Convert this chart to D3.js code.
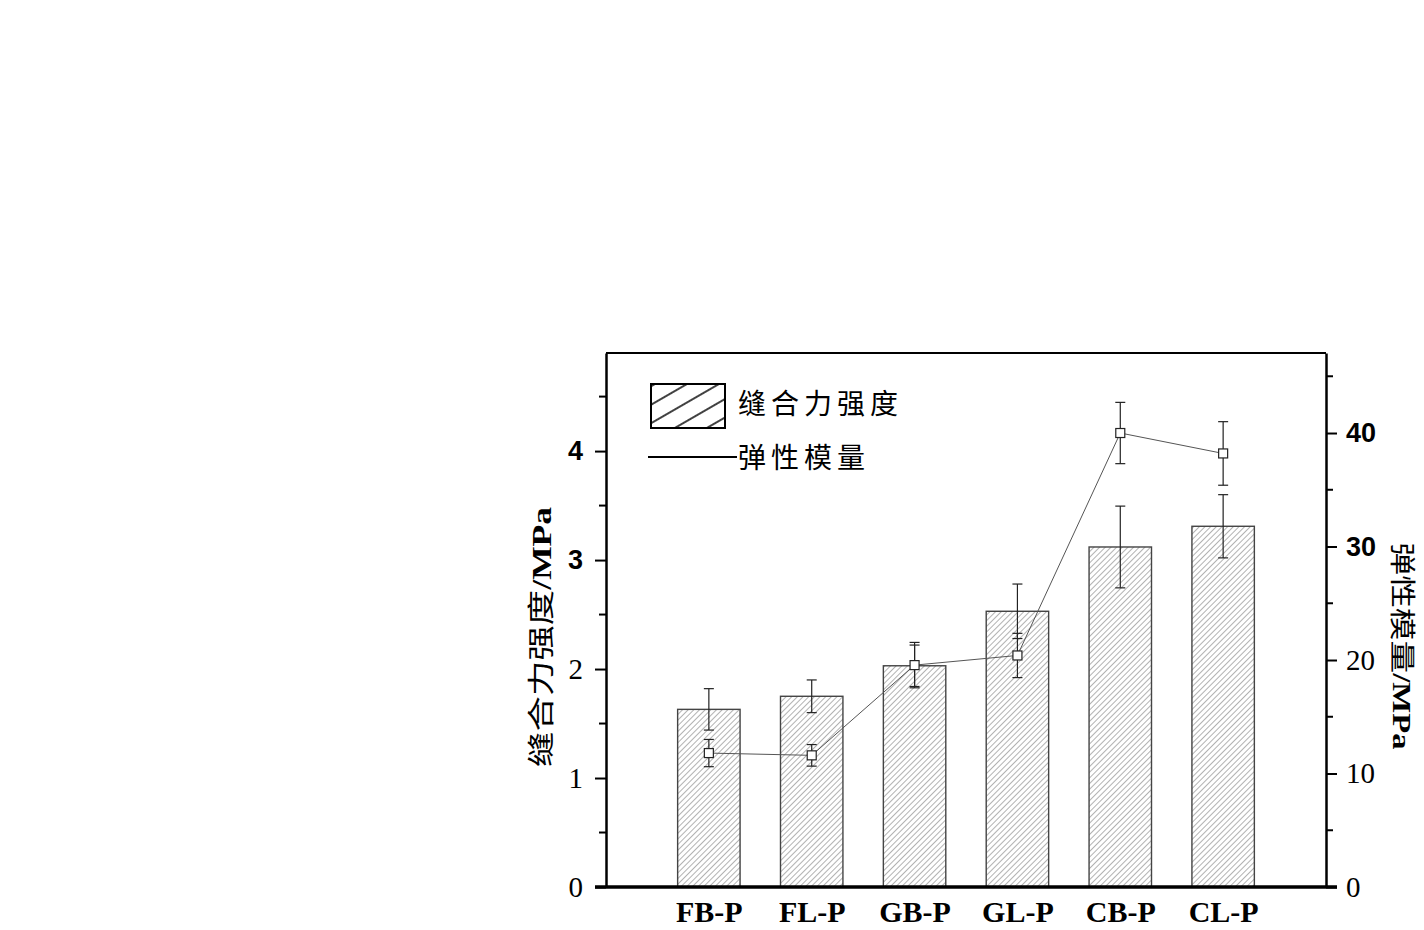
<!DOCTYPE html>
<html>
<head>
<meta charset="utf-8">
<script src="https://cdn.jsdelivr.net/npm/d3@7"></script>
<style>
  html, body { margin: 0; padding: 0; background: #fff; }
  svg { display: block; }
</style>
</head>
<body>
<svg id="chart" width="1424" height="930"></svg>
<script>
// ---- data ----
const categories = ["FB-P", "FL-P", "GB-P", "GL-P", "CB-P", "CL-P"];
const strength = [1.63, 1.75, 2.03, 2.53, 3.12, 3.31];          // 缝合力强度 / MPa
const strengthErr = [0.19, 0.15, 0.19, 0.25, 0.375, 0.29];
const modulus = [11.8, 11.6, 19.55, 20.4, 40.0, 38.2];          // 弹性模量 / MPa
const modulusErr = [1.2, 0.95, 2.0, 1.95, 2.7, 2.8];
const leftTicks = [0, 1, 2, 3, 4];
const leftMinor = [0.5, 1.5, 2.5, 3.5, 4.5];
const rightTicks = [0, 10, 20, 30, 40];
const rightMinor = [5, 15, 25, 35, 45];
const legendLabels = ["缝合力强度", "弹性模量"];
const leftTitle = ["缝合力强度", "/MPa"];
const rightTitle = ["弹性模量", "/MPa"];

const svg = d3.select("#chart");
const L = 606, R = 1326, T = 353, B = 887;

const x = d3.scalePoint().domain(categories).range([L, R]).padding(1);
const yL = d3.scaleLinear().domain([0, 4.9]).range([B, T]);
const yR = d3.scaleLinear().domain([0, 47.05]).range([B, T]);
const barW = x.step() * 0.607;

const defs = svg.append("defs");
defs.append("pattern").attr("id", "hatch").attr("patternUnits", "userSpaceOnUse")
  .attr("width", 4).attr("height", 4).attr("patternTransform", "rotate(45)")
  .append("line").attr("x1", 0).attr("y1", 0).attr("x2", 0).attr("y2", 4)
  .attr("stroke", "#555").attr("stroke-width", 0.9);
defs.append("pattern").attr("id", "hatchL").attr("patternUnits", "userSpaceOnUse")
  .attr("width", 16).attr("height", 16).attr("patternTransform", "translate(651,384) rotate(60)")
  .append("line").attr("x1", 2).attr("y1", 0).attr("x2", 2).attr("y2", 16)
  .attr("stroke", "#111").attr("stroke-width", 1.6);

// bars
const idx = d3.range(categories.length);
svg.append("g").selectAll("rect").data(idx).join("rect")
  .attr("x", i => x(categories[i]) - barW / 2)
  .attr("y", i => yL(strength[i]))
  .attr("width", barW)
  .attr("height", i => B - yL(strength[i]))
  .attr("fill", "url(#hatch)")
  .attr("stroke", "#444").attr("stroke-width", 1.4);

// error bars helper
function errBars(g, scale, vals, errs) {
  const e = g.selectAll("g").data(idx).join("g");
  e.append("line")
    .attr("x1", i => x(categories[i])).attr("x2", i => x(categories[i]))
    .attr("y1", i => scale(vals[i] - errs[i])).attr("y2", i => scale(vals[i] + errs[i]));
  e.append("line")
    .attr("x1", i => x(categories[i]) - 5).attr("x2", i => x(categories[i]) + 5)
    .attr("y1", i => scale(vals[i] + errs[i])).attr("y2", i => scale(vals[i] + errs[i]));
  e.append("line")
    .attr("x1", i => x(categories[i]) - 5).attr("x2", i => x(categories[i]) + 5)
    .attr("y1", i => scale(vals[i] - errs[i])).attr("y2", i => scale(vals[i] - errs[i]));
}
errBars(svg.append("g").attr("stroke", "#222").attr("stroke-width", 1.2), yL, strength, strengthErr);

// modulus line
svg.append("path")
  .datum(idx)
  .attr("fill", "none").attr("stroke", "#555").attr("stroke-width", 1)
  .attr("d", d3.line().x(i => x(categories[i])).y(i => yR(modulus[i])));
errBars(svg.append("g").attr("stroke", "#222").attr("stroke-width", 1.2), yR, modulus, modulusErr);
svg.append("g").selectAll("rect").data(idx).join("rect")
  .attr("x", i => x(categories[i]) - 4.5).attr("y", i => yR(modulus[i]) - 4.5)
  .attr("width", 9).attr("height", 9)
  .attr("fill", "#fff").attr("stroke", "#222").attr("stroke-width", 1.2);

// frame
svg.append("line").attr("x1", L).attr("x2", R).attr("y1", T).attr("y2", T).attr("stroke", "#000").attr("stroke-width", 2);

// left axis
const gL = svg.append("g").attr("transform", `translate(${L},0)`)
  .call(d3.axisLeft(yL).tickValues(leftTicks).tickSize(11).tickSizeOuter(0).tickPadding(12).tickFormat(d3.format("d")));
gL.select(".domain").attr("stroke-width", 2.5);
gL.selectAll(".tick line").attr("stroke-width", 2);
gL.selectAll(".tick text")
  .attr("font-family", d => d >= 3 ? "Liberation Sans" : "Liberation Serif")
  .attr("font-weight", d => d >= 3 ? "bold" : "normal")
  .attr("font-size", d => d >= 3 ? 27 : 29).attr("fill", "#000");
gL.append("g").selectAll("line").data(leftMinor).join("line")
  .attr("x1", 0).attr("x2", -7).attr("y1", d => yL(d)).attr("y2", d => yL(d))
  .attr("stroke", "#000").attr("stroke-width", 2);

// right axis
const gR = svg.append("g").attr("transform", `translate(${R},0)`)
  .call(d3.axisRight(yR).tickValues(rightTicks).tickSize(11).tickSizeOuter(0).tickPadding(9).tickFormat(d3.format("d")));
gR.select(".domain").attr("stroke-width", 2.5);
gR.selectAll(".tick line").attr("stroke-width", 2);
gR.selectAll(".tick text")
  .attr("font-family", d => d >= 30 ? "Liberation Sans" : "Liberation Serif")
  .attr("font-weight", d => d >= 30 ? "bold" : "normal")
  .attr("font-size", d => d >= 30 ? 27 : 29).attr("fill", "#000");
gR.append("g").selectAll("line").data(rightMinor).join("line")
  .attr("x1", 0).attr("x2", 7).attr("y1", d => yR(d)).attr("y2", d => yR(d))
  .attr("stroke", "#000").attr("stroke-width", 2);

// bottom axis
const gB = svg.append("g").attr("transform", `translate(0,${B})`)
  .call(d3.axisBottom(x).tickSize(0).tickSizeOuter(0).tickPadding(14));
gB.select(".domain").attr("stroke-width", 3.5).attr("d", `M${L - 11},0H${R + 11}`);
gB.selectAll(".tick text")
  .attr("font-family", "Liberation Serif").attr("font-weight", "bold")
  .attr("font-size", 30).attr("fill", "#000");

// legend
svg.append("rect").attr("x", 651).attr("y", 384).attr("width", 74).attr("height", 44)
  .attr("fill", "url(#hatchL)").attr("stroke", "#000").attr("stroke-width", 2);
svg.append("line").attr("x1", 648).attr("x2", 737).attr("y1", 457).attr("y2", 457)
  .attr("stroke", "#000").attr("stroke-width", 2);
svg.selectAll(".leg").data(legendLabels).join("text").attr("class", "leg")
  .attr("x", 738).attr("y", (d, i) => 404 + i * 54)
  .attr("dy", "0.36em")
  .attr("font-family", "Noto Sans CJK SC").attr("font-size", 28)
  .attr("letter-spacing", 5).attr("fill", "#000")
  .text(d => d);

// axis titles
const tl = svg.append("text")
  .attr("transform", "translate(541,637) rotate(-90)")
  .attr("text-anchor", "middle").attr("dy", "0.36em")
  .attr("textLength", 260).attr("lengthAdjust", "spacingAndGlyphs")
  .attr("font-size", 27).attr("fill", "#000");
tl.append("tspan").attr("font-family", "Noto Sans CJK SC").text(leftTitle[0]);
tl.append("tspan").attr("font-family", "Liberation Serif").attr("font-weight", "bold").text(leftTitle[1]);

const tr = svg.append("text")
  .attr("transform", "translate(1402,646) rotate(90)")
  .attr("text-anchor", "middle").attr("dy", "0.36em")
  .attr("textLength", 207).attr("lengthAdjust", "spacingAndGlyphs")
  .attr("font-size", 26).attr("fill", "#000");
tr.append("tspan").attr("font-family", "Noto Sans CJK SC").text(rightTitle[0]);
tr.append("tspan").attr("font-family", "Liberation Serif").attr("font-weight", "bold").text(rightTitle[1]);
</script>
</body>
</html>
